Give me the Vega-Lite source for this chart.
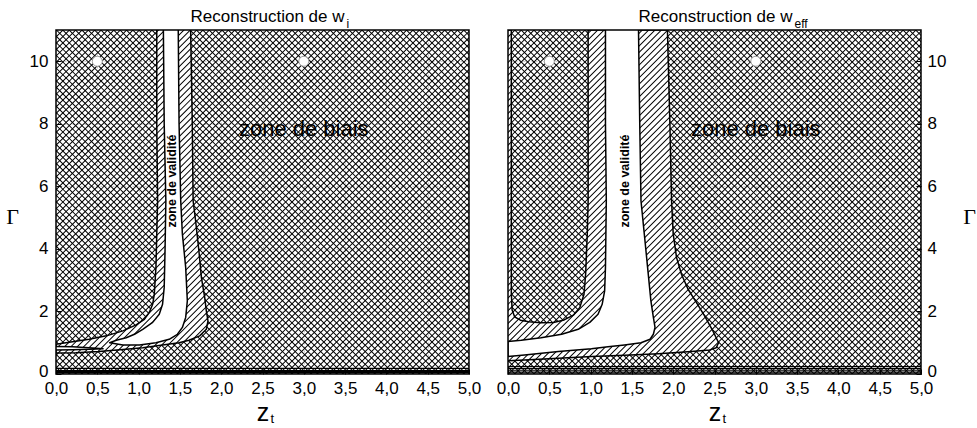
{
"$schema":"https://vega.github.io/schema/vega-lite/v6.json",
"padding":{"left":5,"top":8,"right":0,"bottom":2},
"spacing":39,
"bounds":"flush",
"config":{
 "font":"Liberation Sans",
 "view":{"stroke":null},
 "axis":{"labelFont":"Liberation Sans","labelFontSize":17,"labelColor":"black","tickColor":"black","tickSize":-5,"tickWidth":1,"domain":false,"grid":true,"gridColor":"#c8c8c8","gridDash":[2,2],"gridWidth":1,"labelFlush":false,"titleColor":"black","titleFontWeight":"normal","zindex":1}
},
"datasets":{
 "L":[
  {"s":"B","i":0,"x":1.22,"y":11},{"s":"B","i":1,"x":1.22,"y":8},{"s":"B","i":2,"x":1.23,"y":5.54},{"s":"B","i":3,"x":1.22,"y":4.48},{"s":"B","i":4,"x":1.21,"y":3.41},{"s":"B","i":5,"x":1.19,"y":2.55},{"s":"B","i":6,"x":1.17,"y":2.23},{"s":"B","i":7,"x":1.13,"y":1.97},{"s":"B","i":8,"x":1.07,"y":1.75},{"s":"B","i":9,"x":0.97,"y":1.57},{"s":"B","i":10,"x":0.81,"y":1.38},{"s":"B","i":11,"x":0.61,"y":1.22},{"s":"B","i":12,"x":0.4,"y":1.11},{"s":"B","i":13,"x":0.2,"y":1.03},{"s":"B","i":14,"x":0,"y":0.95},{"s":"B","i":15,"x":0,"y":0.67},{"s":"B","i":16,"x":0.24,"y":0.68},{"s":"B","i":17,"x":0.52,"y":0.72},{"s":"B","i":18,"x":0.81,"y":0.78},{"s":"B","i":19,"x":1.05,"y":0.84},{"s":"B","i":20,"x":1.29,"y":0.93},{"s":"B","i":21,"x":1.49,"y":1.0},{"s":"B","i":22,"x":1.61,"y":1.08},{"s":"B","i":23,"x":1.74,"y":1.22},{"s":"B","i":24,"x":1.82,"y":1.43},{"s":"B","i":25,"x":1.84,"y":1.7},{"s":"B","i":26,"x":1.82,"y":2.02},{"s":"B","i":27,"x":1.8,"y":2.45},{"s":"B","i":28,"x":1.76,"y":3.09},{"s":"B","i":29,"x":1.73,"y":3.94},{"s":"B","i":30,"x":1.69,"y":4.9},{"s":"B","i":31,"x":1.66,"y":5.54},{"s":"B","i":32,"x":1.65,"y":8},{"s":"B","i":33,"x":1.63,"y":11},
  {"s":"W","i":0,"x":1.3,"y":11},{"s":"W","i":1,"x":1.31,"y":8},{"s":"W","i":2,"x":1.33,"y":5.54},{"s":"W","i":3,"x":1.32,"y":3.94},{"s":"W","i":4,"x":1.31,"y":2.77},{"s":"W","i":5,"x":1.29,"y":2.23},{"s":"W","i":6,"x":1.25,"y":1.91},{"s":"W","i":7,"x":1.17,"y":1.65},{"s":"W","i":8,"x":1.05,"y":1.43},{"s":"W","i":9,"x":0.95,"y":1.27},{"s":"W","i":10,"x":0.85,"y":1.16},{"s":"W","i":11,"x":0.73,"y":1.08},{"s":"W","i":12,"x":0.65,"y":1.0},{"s":"W","i":13,"x":0.81,"y":0.93},{"s":"W","i":14,"x":1.01,"y":0.93},{"s":"W","i":15,"x":1.21,"y":1.0},{"s":"W","i":16,"x":1.37,"y":1.11},{"s":"W","i":17,"x":1.47,"y":1.27},{"s":"W","i":18,"x":1.53,"y":1.49},{"s":"W","i":19,"x":1.57,"y":1.81},{"s":"W","i":20,"x":1.59,"y":2.34},{"s":"W","i":21,"x":1.57,"y":3.41},{"s":"W","i":22,"x":1.53,"y":4.48},{"s":"W","i":23,"x":1.51,"y":5.54},{"s":"W","i":24,"x":1.49,"y":8},{"s":"W","i":25,"x":1.48,"y":11},
  {"s":"S","i":0,"x":0,"y":0.88},{"s":"S","i":1,"x":0.2,"y":0.87},{"s":"S","i":2,"x":0.4,"y":0.84},{"s":"S","i":3,"x":0.57,"y":0.81},{"s":"S","i":4,"x":0.4,"y":0.79},{"s":"S","i":5,"x":0.2,"y":0.775},{"s":"S","i":6,"x":0,"y":0.77},
  {"s":"pt","x":0.5,"y":10},{"s":"pt","x":3.0,"y":10},
  {"s":"h","x":0,"x2":5,"y":0.18},{"s":"hk","x":0,"x2":5,"y":0.07},
  {"s":"biais","x":3.0,"y":7.6,"t":"zone de biais"},
  {"s":"valid","x":1.41,"y":6.17,"t":"zone de validité"}
 ],
 "R":[
  {"s":"B","i":0,"x":0,"y":11},{"s":"B","i":1,"x":0.04,"y":11},{"s":"B","i":2,"x":0.04,"y":5},{"s":"B","i":3,"x":0.04,"y":2.6},{"s":"B","i":4,"x":0.05,"y":2.05},{"s":"B","i":5,"x":0.08,"y":1.83},{"s":"B","i":6,"x":0.15,"y":1.72},{"s":"B","i":7,"x":0.25,"y":1.67},{"s":"B","i":8,"x":0.4,"y":1.64},{"s":"B","i":9,"x":0.55,"y":1.65},{"s":"B","i":10,"x":0.68,"y":1.73},{"s":"B","i":11,"x":0.79,"y":1.88},{"s":"B","i":12,"x":0.87,"y":2.13},{"s":"B","i":13,"x":0.92,"y":2.55},{"s":"B","i":14,"x":0.94,"y":3.2},{"s":"B","i":15,"x":0.96,"y":4.5},{"s":"B","i":16,"x":0.97,"y":5.5},{"s":"B","i":17,"x":0.97,"y":11},{"s":"B","i":18,"x":1.93,"y":11},{"s":"B","i":19,"x":1.96,"y":8},{"s":"B","i":20,"x":1.98,"y":5.54},{"s":"B","i":21,"x":2.0,"y":4.48},{"s":"B","i":22,"x":2.04,"y":3.73},{"s":"B","i":23,"x":2.1,"y":3.19},{"s":"B","i":24,"x":2.18,"y":2.71},{"s":"B","i":25,"x":2.28,"y":2.29},{"s":"B","i":26,"x":2.38,"y":1.86},{"s":"B","i":27,"x":2.47,"y":1.43},{"s":"B","i":28,"x":2.52,"y":1.16},{"s":"B","i":29,"x":2.55,"y":1.0},{"s":"B","i":30,"x":2.52,"y":0.84},{"s":"B","i":31,"x":2.44,"y":0.77},{"s":"B","i":32,"x":2.22,"y":0.72},{"s":"B","i":33,"x":1.82,"y":0.65},{"s":"B","i":34,"x":1.41,"y":0.6},{"s":"B","i":35,"x":1.01,"y":0.56},{"s":"B","i":36,"x":0.61,"y":0.5},{"s":"B","i":37,"x":0.2,"y":0.45},{"s":"B","i":38,"x":0,"y":0.42},
  {"s":"W","i":0,"x":1.18,"y":11},{"s":"W","i":1,"x":1.18,"y":8},{"s":"W","i":2,"x":1.19,"y":5.54},{"s":"W","i":3,"x":1.18,"y":3.41},{"s":"W","i":4,"x":1.17,"y":2.66},{"s":"W","i":5,"x":1.14,"y":2.23},{"s":"W","i":6,"x":1.09,"y":1.91},{"s":"W","i":7,"x":0.99,"y":1.65},{"s":"W","i":8,"x":0.85,"y":1.43},{"s":"W","i":9,"x":0.65,"y":1.27},{"s":"W","i":10,"x":0.4,"y":1.16},{"s":"W","i":11,"x":0.16,"y":1.08},{"s":"W","i":12,"x":0,"y":1.04},{"s":"W","i":13,"x":0,"y":0.56},{"s":"W","i":14,"x":0.2,"y":0.61},{"s":"W","i":15,"x":0.61,"y":0.72},{"s":"W","i":16,"x":1.01,"y":0.81},{"s":"W","i":17,"x":1.21,"y":0.87},{"s":"W","i":18,"x":1.41,"y":0.93},{"s":"W","i":19,"x":1.61,"y":1.0},{"s":"W","i":20,"x":1.72,"y":1.11},{"s":"W","i":21,"x":1.76,"y":1.27},{"s":"W","i":22,"x":1.78,"y":1.49},{"s":"W","i":23,"x":1.76,"y":1.81},{"s":"W","i":24,"x":1.73,"y":2.34},{"s":"W","i":25,"x":1.69,"y":3.41},{"s":"W","i":26,"x":1.65,"y":4.48},{"s":"W","i":27,"x":1.61,"y":5.54},{"s":"W","i":28,"x":1.595,"y":8},{"s":"W","i":29,"x":1.58,"y":11},
  {"s":"pt","x":0.5,"y":10},{"s":"pt","x":3.0,"y":10},
  {"s":"h","x":0,"x2":5,"y":0.235},{"s":"h","x":0,"x2":5,"y":0.17},{"s":"h","x":0,"x2":5,"y":0.1},{"s":"h","x":0,"x2":5,"y":0.04},
  {"s":"biais","x":3.0,"y":7.6,"t":"zone de biais"},
  {"s":"valid","x":1.42,"y":6.17,"t":"zone de validité"}
 ]
},
"hconcat":[
 {
  "width":413,"height":344,
  "layer":[
   {"data":{"values":[{}]},"mark":{"type":"rule","color":"black","strokeWidth":600,"strokeDash":[1.0,3.5],"clip":true},
    "encoding":{"x":{"datum":0,"type":"quantitative","scale":{"domain":[0,5],"nice":false,"zero":false}},"y":{"datum":0,"type":"quantitative","scale":{"domain":[0,11],"nice":false,"zero":false}},"x2":{"datum":4.6},"y2":{"datum":12.151}}},
   {"data":{"name":"L"},"transform":[{"filter":"datum.s==='B'"}],"mark":{"type":"line","fill":"white","stroke":"black","strokeWidth":1.5,"strokeJoin":"round","clip":true},
    "encoding":{
     "x":{"field":"x","type":"quantitative","scale":{"domain":[0,5],"nice":false,"zero":false},
        "axis":{"values":[0,0.5,1,1.5,2,2.5,3,3.5,4,4.5,5],"labelExpr":"replace(format(datum.value,'.1f'),'.',',')","labelPadding":11,"title":"z","titleFontSize":25,"titleX":206.5,"titleY":46,"titleAlign":"center","titleBaseline":"alphabetic","gridOpacity":{"condition":{"test":"datum.value<=0||datum.value>=5","value":0},"value":1}}},
     "y":{"field":"y","type":"quantitative","scale":{"domain":[0,11],"nice":false,"zero":false},
        "axis":{"values":[0,2,4,6,8,10],"labelPadding":13,"labelOffset":{"condition":{"test":"datum.value===0","value":-3},"value":0},"title":"Γ","titleFont":"Liberation Serif","titleFontSize":22,"titleAngle":0,"titleX":-44,"titleY":193,"titleAlign":"center","titleBaseline":"alphabetic","gridOpacity":{"condition":{"test":"datum.value<=0","value":0},"value":1}}},
     "order":{"field":"i","type":"quantitative"}}},
   {"data":{"values":[{}]},"mark":{"type":"rule","color":"black","strokeWidth":600,"strokeDash":[1.0,3.5],"clip":true},
    "encoding":{"x":{"datum":0,"type":"quantitative"},"y":{"datum":11,"type":"quantitative"},"x2":{"datum":4.6},"y2":{"datum":-1.151}}},
   {"data":{"name":"L"},"transform":[{"filter":"datum.s==='W'||datum.s==='S'"}],"mark":{"type":"line","fill":"white","stroke":"black","strokeWidth":1.5,"strokeJoin":"round","clip":true},
    "encoding":{"x":{"field":"x","type":"quantitative"},"y":{"field":"y","type":"quantitative"},"order":{"field":"i","type":"quantitative"},"detail":{"field":"s"}}},
   {"data":{"name":"L"},"transform":[{"filter":"datum.s==='h'"}],"mark":{"type":"rule","color":"black","strokeWidth":1.2},
    "encoding":{"x":{"field":"x","type":"quantitative"},"x2":{"field":"x2"},"y":{"field":"y","type":"quantitative"}}},
   {"data":{"name":"L"},"transform":[{"filter":"datum.s==='hk'"}],"mark":{"type":"rule","color":"black","strokeWidth":3.5},
    "encoding":{"x":{"field":"x","type":"quantitative"},"x2":{"field":"x2"},"y":{"field":"y","type":"quantitative"}}},
   {"data":{"values":[{}]},"mark":{"type":"rect","filled":false,"color":"black","strokeWidth":1.5},
    "encoding":{"x":{"datum":0,"type":"quantitative"},"x2":{"datum":5},"y":{"datum":0,"type":"quantitative"},"y2":{"datum":11}}},
   {"data":{"name":"L"},"transform":[{"filter":"datum.s==='pt'"}],"mark":{"type":"circle","fill":"white","stroke":"#a0a0a0","strokeWidth":1,"size":100,"opacity":1},
    "encoding":{"x":{"field":"x","type":"quantitative"},"y":{"field":"y","type":"quantitative"}}},
   {"data":{"name":"L"},"transform":[{"filter":"datum.s==='biais'"}],"mark":{"type":"text","fontSize":22,"align":"center","baseline":"alphabetic","color":"black"},
    "encoding":{"x":{"field":"x","type":"quantitative"},"y":{"field":"y","type":"quantitative"},"text":{"field":"t"}}},
   {"data":{"name":"L"},"transform":[{"filter":"datum.s==='valid'"}],"mark":{"type":"text","fontSize":12.5,"fontWeight":"bold","angle":270,"align":"center","baseline":"middle","color":"black"},
    "encoding":{"x":{"field":"x","type":"quantitative"},"y":{"field":"y","type":"quantitative"},"text":{"field":"t"}}},
   {"data":{"values":[{}]},"mark":{"type":"text","text":"Reconstruction de w","fontSize":17,"dx":5,"dy":-8,"align":"center","baseline":"alphabetic","color":"black"},
    "encoding":{"x":{"datum":2.5,"type":"quantitative"},"y":{"datum":11,"type":"quantitative"}}},
   {"data":{"values":[{}]},"mark":{"type":"text","text":"i","fontSize":12,"dx":84,"dy":-2,"align":"left","baseline":"alphabetic","color":"black"},
    "encoding":{"x":{"datum":2.5,"type":"quantitative"},"y":{"datum":11,"type":"quantitative"}}},
   {"data":{"values":[{}]},"mark":{"type":"text","text":"t","fontSize":13,"dx":8,"dy":49,"align":"left","baseline":"alphabetic","color":"black"},
    "encoding":{"x":{"datum":2.5,"type":"quantitative"},"y":{"datum":0,"type":"quantitative"}}}
  ]
 },
 {
  "width":413,"height":344,
  "layer":[
   {"data":{"values":[{}]},"mark":{"type":"rule","color":"black","strokeWidth":600,"strokeDash":[1.0,3.5],"clip":true},
    "encoding":{"x":{"datum":0,"type":"quantitative","scale":{"domain":[0,5],"nice":false,"zero":false}},"y":{"datum":0,"type":"quantitative","scale":{"domain":[0,11],"nice":false,"zero":false}},"x2":{"datum":4.6},"y2":{"datum":12.151}}},
   {"data":{"name":"R"},"transform":[{"filter":"datum.s==='B'"}],"mark":{"type":"line","fill":"white","stroke":"black","strokeWidth":1.5,"strokeJoin":"round","clip":true},
    "encoding":{
     "x":{"field":"x","type":"quantitative","scale":{"domain":[0,5],"nice":false,"zero":false},
        "axis":{"values":[0,0.5,1,1.5,2,2.5,3,3.5,4,4.5,5],"labelExpr":"replace(format(datum.value,'.1f'),'.',',')","labelPadding":11,"title":"z","titleFontSize":25,"titleX":206.5,"titleY":46,"titleAlign":"center","titleBaseline":"alphabetic","gridOpacity":{"condition":{"test":"datum.value<=0||datum.value>=5","value":0},"value":1}}},
     "y":{"field":"y","type":"quantitative","scale":{"domain":[0,11],"nice":false,"zero":false},
        "axis":{"orient":"right","values":[0,2,4,6,8,10],"labelPadding":11,"labelOffset":{"condition":{"test":"datum.value===0","value":-3},"value":0},"title":"Γ","titleFont":"Liberation Serif","titleFontSize":22,"titleAngle":0,"titleX":48,"titleY":193,"titleAlign":"center","titleBaseline":"alphabetic","gridOpacity":{"condition":{"test":"datum.value<=0","value":0},"value":1}}},
     "order":{"field":"i","type":"quantitative"}}},
   {"data":{"values":[{}]},"mark":{"type":"rule","color":"black","strokeWidth":600,"strokeDash":[1.0,3.5],"clip":true},
    "encoding":{"x":{"datum":0,"type":"quantitative"},"y":{"datum":11,"type":"quantitative"},"x2":{"datum":4.6},"y2":{"datum":-1.151}}},
   {"data":{"name":"R"},"transform":[{"filter":"datum.s==='W'"}],"mark":{"type":"line","fill":"white","stroke":"black","strokeWidth":1.5,"strokeJoin":"round","clip":true},
    "encoding":{"x":{"field":"x","type":"quantitative"},"y":{"field":"y","type":"quantitative"},"order":{"field":"i","type":"quantitative"}}},
   {"data":{"name":"R"},"transform":[{"filter":"datum.s==='h'"}],"mark":{"type":"rule","color":"black","strokeWidth":1.2},
    "encoding":{"x":{"field":"x","type":"quantitative"},"x2":{"field":"x2"},"y":{"field":"y","type":"quantitative"}}},
   {"data":{"values":[{}]},"mark":{"type":"rect","filled":false,"color":"black","strokeWidth":1.5},
    "encoding":{"x":{"datum":0,"type":"quantitative"},"x2":{"datum":5},"y":{"datum":0,"type":"quantitative"},"y2":{"datum":11}}},
   {"data":{"name":"R"},"transform":[{"filter":"datum.s==='pt'"}],"mark":{"type":"circle","fill":"white","stroke":"#a0a0a0","strokeWidth":1,"size":100,"opacity":1},
    "encoding":{"x":{"field":"x","type":"quantitative"},"y":{"field":"y","type":"quantitative"}}},
   {"data":{"name":"R"},"transform":[{"filter":"datum.s==='biais'"}],"mark":{"type":"text","fontSize":22,"align":"center","baseline":"alphabetic","color":"black"},
    "encoding":{"x":{"field":"x","type":"quantitative"},"y":{"field":"y","type":"quantitative"},"text":{"field":"t"}}},
   {"data":{"name":"R"},"transform":[{"filter":"datum.s==='valid'"}],"mark":{"type":"text","fontSize":12.5,"fontWeight":"bold","angle":270,"align":"center","baseline":"middle","color":"black"},
    "encoding":{"x":{"field":"x","type":"quantitative"},"y":{"field":"y","type":"quantitative"},"text":{"field":"t"}}},
   {"data":{"values":[{}]},"mark":{"type":"text","text":"Reconstruction de w","fontSize":17,"dx":1,"dy":-8,"align":"center","baseline":"alphabetic","color":"black"},
    "encoding":{"x":{"datum":2.5,"type":"quantitative"},"y":{"datum":11,"type":"quantitative"}}},
   {"data":{"values":[{}]},"mark":{"type":"text","text":"eff","fontSize":12,"dx":80,"dy":-2,"align":"left","baseline":"alphabetic","color":"black"},
    "encoding":{"x":{"datum":2.5,"type":"quantitative"},"y":{"datum":11,"type":"quantitative"}}},
   {"data":{"values":[{}]},"mark":{"type":"text","text":"t","fontSize":13,"dx":8,"dy":49,"align":"left","baseline":"alphabetic","color":"black"},
    "encoding":{"x":{"datum":2.5,"type":"quantitative"},"y":{"datum":0,"type":"quantitative"}}}
  ]
 }
]
}
